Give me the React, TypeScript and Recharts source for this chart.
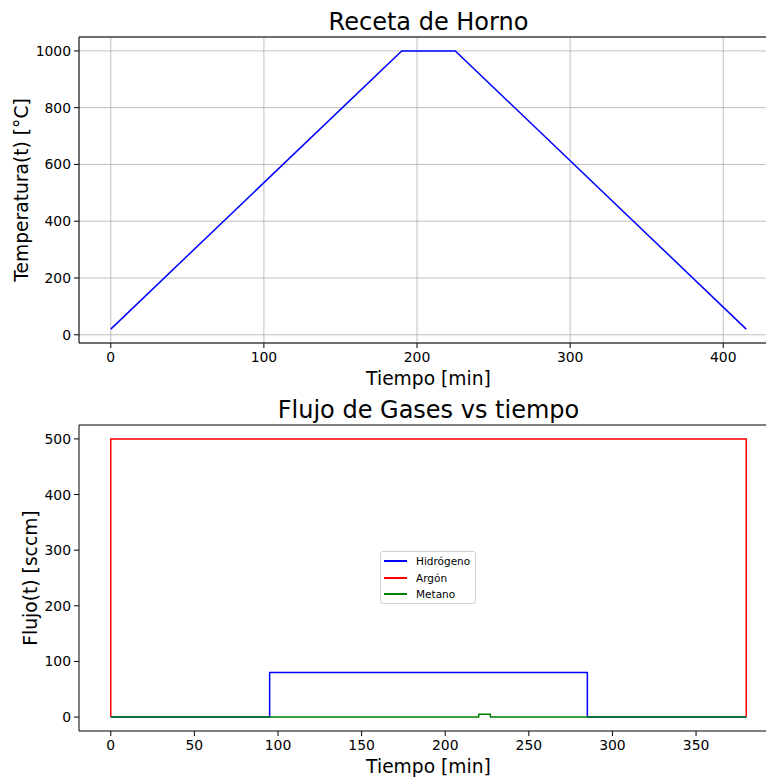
import React from "react";
import { LineChart, Line, XAxis, YAxis, CartesianGrid, Legend, ReferenceLine } from "recharts";

const FONT = "DejaVu Sans, sans-serif";

// Oven recipe
const ovenTime = [0, 190, 225, 415];
const ovenTemp = [20, 1000, 1000, 20];
const ovenXTicks = [0, 100, 200, 300, 400];
const ovenYTicks = [0, 200, 400, 600, 800, 1000];

// Gas flows
const hydroTime = [0, 95, 95, 285, 285, 380];
const hydroFlow = [0, 0, 80, 80, 0, 0];
const argonTime = [0, 0, 380, 380];
const argonFlow = [0, 500, 500, 0];
const methaneTime = [0, 220, 220, 227, 227, 380];
const methaneFlow = [0, 0, 5, 5, 0, 0];
const gasXTicks = [0, 50, 100, 150, 200, 250, 300, 350];
const gasYTicks = [0, 100, 200, 300, 400, 500];

const gasNames = ["Hidrógeno", "Argón", "Metano"];
const gasColors = ["#0000ff", "#ff0000", "#008000"];

const zip = (xs: number[], ys: number[]) => xs.map((x, i) => ({ x, y: ys[i] }));

const ovenData = zip(ovenTime, ovenTemp);
const gasData = [zip(hydroTime, hydroFlow), zip(argonTime, argonFlow), zip(methaneTime, methaneFlow)];

const TICK_FS = 13.9;

const XTick = (props: any) => {
  const { x, y, payload } = props;
  return (
    <text x={x} y={y + 12.3} textAnchor="middle" fontSize={TICK_FS} fontFamily={FONT} fill="#000" style={{ fontSize: TICK_FS }}>
      {payload.value}
    </text>
  );
};

const YTick = (props: any) => {
  const { x, y, payload } = props;
  return (
    <text x={x} y={y + 5} textAnchor="end" fontSize={TICK_FS} fontFamily={FONT} fill="#000" style={{ fontSize: TICK_FS }}>
      {payload.value}
    </text>
  );
};

const yLabel = (text: string, cx: number) => (props: any) => {
  const vb = props.viewBox || {};
  const cy = vb.y + vb.height / 2;
  return (
    <text
      x={cx}
      y={cy}
      transform={`rotate(-90 ${cx} ${cy})`}
      textAnchor="middle"
      dominantBaseline="central"
      fontSize={18.7}
      fontFamily={FONT}
      fill="#000"
    >
      {text}
    </text>
  );
};

const xLabel = (text: string, cy: number) => (props: any) => {
  const vb = props.viewBox || {};
  const cx = vb.x + vb.width / 2;
  return (
    <text x={cx} y={cy} textAnchor="middle" dominantBaseline="central" fontSize={18.7} fontFamily={FONT} fill="#000">
      {text}
    </text>
  );
};

const LegendBox = () => (
  <div
    style={{
      width: 96,
      height: 53,
      border: "1px solid #d0d0d0",
      borderRadius: 3,
      background: "rgba(255,255,255,0.8)",
      fontFamily: FONT,
      fontSize: 10.5,
      boxSizing: "border-box",
      paddingTop: 1,
    }}
  >
    {gasNames.map((name, i) => (
      <div key={name} style={{ display: "flex", alignItems: "center", height: 16.5 }}>
        <div style={{ width: 23, height: 2, background: gasColors[i], marginLeft: 3, marginRight: 9 }} />
        <span style={{ color: "#000", lineHeight: "16.5px" }}>{name}</span>
      </div>
    ))}
  </div>
);

const Title = ({ text, y }: { text: string; y: number }) => (
  <div
    style={{
      position: "absolute",
      left: 79,
      width: 699,
      top: y,
      textAlign: "center",
      fontFamily: FONT,
      fontSize: 24,
      color: "#000",
      lineHeight: "28px",
      whiteSpace: "nowrap",
    }}
  >
    {text}
  </div>
);

export default function App() {
  return (
    <div style={{ position: "absolute", left: 0, top: 0, width: 766, height: 778, overflow: "hidden", background: "#fff" }}>
      <div style={{ position: "absolute", left: 0, top: 0 }}>
        <LineChart width={778} height={390} margin={{ top: 37, right: 0, bottom: 0, left: 0 }}>
          <CartesianGrid stroke="#b0b0b0" strokeWidth={0.8} />
          <XAxis
            type="number"
            dataKey="x"
            domain={[-20.75, 435.75]}
            ticks={ovenXTicks}
            allowDataOverflow
            height={47}
            tick={<XTick />}
            tickSize={5}
            tickMargin={2}
            stroke="#000"
            label={{ content: xLabel("Tiempo [min]", 378) }}
          />
          <YAxis
            type="number"
            dataKey="y"
            domain={[-29, 1049]}
            ticks={ovenYTicks}
            allowDataOverflow
            width={79}
            tick={<YTick />}
            tickSize={5}
            tickMargin={3}
            stroke="#000"
            label={{ content: yLabel("Temperatura(t) [°C]", 21) }}
          />
          <ReferenceLine y={1049} stroke="#000" strokeWidth={1} ifOverflow="visible" />
          <Line data={ovenData} dataKey="y" stroke="#0000ff" strokeWidth={1.5} dot={false} isAnimationActive={false} type="linear" />
        </LineChart>
      </div>
      <Title text="Receta de Horno" y={8} />
      <div style={{ position: "absolute", left: 0, top: 390 }}>
        <LineChart width={778} height={388} margin={{ top: 35, right: 0, bottom: 0, left: 0 }}>
          <XAxis
            type="number"
            dataKey="x"
            domain={[-19, 399]}
            ticks={gasXTicks}
            allowDataOverflow
            height={47}
            tick={<XTick />}
            tickSize={5}
            tickMargin={2}
            stroke="#000"
            label={{ content: xLabel("Tiempo [min]", 376) }}
          />
          <YAxis
            type="number"
            dataKey="y"
            domain={[-25, 525]}
            ticks={gasYTicks}
            allowDataOverflow
            width={79}
            tick={<YTick />}
            tickSize={5}
            tickMargin={3}
            stroke="#000"
            label={{ content: yLabel("Flujo(t) [sccm]", 30) }}
          />
          <ReferenceLine y={525} stroke="#000" strokeWidth={1} ifOverflow="visible" />
          {gasData.map((d, i) => (
            <Line
              key={gasNames[i]}
              data={d}
              dataKey="y"
              name={gasNames[i]}
              stroke={gasColors[i]}
              strokeWidth={1.5}
              dot={false}
              isAnimationActive={false}
              type="linear"
            />
          ))}
          <Legend
            content={<LegendBox />}
            layout="horizontal"
            verticalAlign="middle"
            align="center"
            wrapperStyle={{ position: "absolute", left: 380, top: 161, width: 96, bottom: "auto", right: "auto" }}
          />
        </LineChart>
      </div>
      <Title text="Flujo de Gases vs tiempo" y={396} />
    </div>
  );
}
